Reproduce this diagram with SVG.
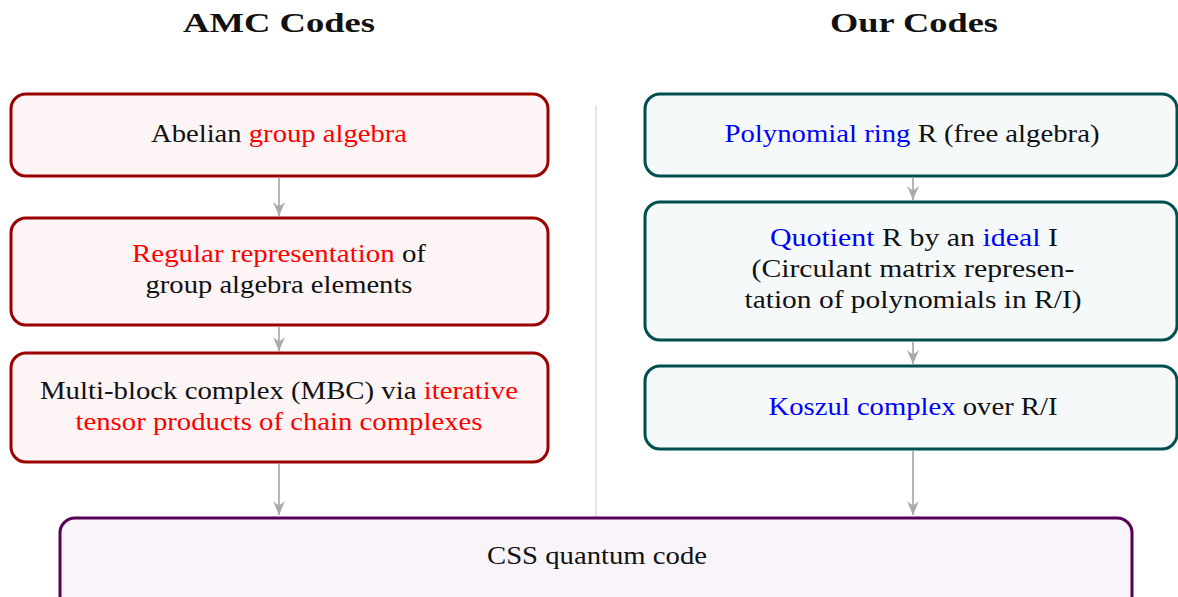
<svg xmlns="http://www.w3.org/2000/svg" width="1178" height="597" viewBox="0 0 1178 597">
<style>
text{font-family:"Liberation Serif","Times New Roman",serif;font-size:25px;fill:#111;text-anchor:middle}
.title{font-weight:bold;font-size:28px}
.r{fill:#ff0000}
.b{fill:#0000ff}
.amc{fill:#fdf4f5;stroke:#9b0000;stroke-width:3}
.our{fill:#f5f9fa;stroke:#004f4f;stroke-width:3}
.css{fill:#f8f4fa;stroke:#560057;stroke-width:3}
.arr{stroke:#aaaaaa;stroke-width:1.7;fill:none;marker-end:url(#ah)}
</style>
<defs>
<marker id="ah" markerUnits="userSpaceOnUse" markerWidth="18" markerHeight="16" viewBox="-15 -8 17 16" refX="0" refY="0" orient="auto">
<path d="M0,0 L-14,-6 Q-10,-1.5 -10,0 Q-10,1.5 -14,6 Z" fill="#aaaaaa"/>
</marker>
</defs>
<g id="titles">
<text class="title" x="279" y="32" textLength="192" lengthAdjust="spacingAndGlyphs">AMC Codes</text>
<text class="title" x="914" y="32" textLength="168" lengthAdjust="spacingAndGlyphs">Our Codes</text>
</g>
<line id="divider" x1="596" y1="105" x2="596" y2="519" stroke="#d6d6d6" stroke-width="1.2"/>
<g id="connectors">
<line class="arr" x1="279" y1="178" x2="279" y2="216"/>
<line class="arr" x1="279" y1="327" x2="279" y2="351"/>
<line class="arr" x1="279" y1="464" x2="279" y2="515"/>
<line class="arr" x1="913" y1="178" x2="913" y2="200"/>
<line class="arr" x1="913" y1="342" x2="913" y2="364"/>
<line class="arr" x1="913" y1="451" x2="913" y2="515"/>
</g>
<g id="amc1">
<rect class="amc" x="11" y="94" width="537" height="82" rx="15"/>
<text x="279" y="142" textLength="256" lengthAdjust="spacingAndGlyphs">Abelian <tspan class="r">group algebra</tspan></text>
</g>
<g id="amc2">
<rect class="amc" x="11" y="218" width="537" height="107" rx="15"/>
<text x="279" y="262" textLength="294" lengthAdjust="spacingAndGlyphs"><tspan class="r">Regular representation</tspan> of</text>
<text x="279" y="293" textLength="267" lengthAdjust="spacingAndGlyphs">group algebra elements</text>
</g>
<g id="amc3">
<rect class="amc" x="11" y="353" width="537" height="109" rx="15"/>
<text x="279" y="399" textLength="478" lengthAdjust="spacingAndGlyphs">Multi-block complex (MBC) via <tspan class="r">iterative</tspan></text>
<text x="279" y="430" textLength="407" lengthAdjust="spacingAndGlyphs" class="r">tensor products of chain complexes</text>
</g>
<g id="our1">
<rect class="our" x="645" y="94" width="532" height="82" rx="15"/>
<text x="912" y="142" textLength="375" lengthAdjust="spacingAndGlyphs"><tspan class="b">Polynomial ring</tspan> R (free algebra)</text>
</g>
<g id="our2">
<rect class="our" x="645" y="202" width="532" height="138" rx="15"/>
<text x="914" y="246" textLength="288" lengthAdjust="spacingAndGlyphs"><tspan class="b">Quotient</tspan> R by an <tspan class="b">ideal</tspan> I</text>
<text x="913" y="277" textLength="323" lengthAdjust="spacingAndGlyphs">(Circulant matrix represen-</text>
<text x="913" y="308" textLength="337" lengthAdjust="spacingAndGlyphs">tation of polynomials in R/I)</text>
</g>
<g id="our3">
<rect class="our" x="645" y="366" width="532" height="83" rx="15"/>
<text x="913" y="415" textLength="289" lengthAdjust="spacingAndGlyphs"><tspan class="b">Koszul complex</tspan> over R/I</text>
</g>
<g id="css">
<rect class="css" x="60" y="518" width="1072" height="110" rx="15"/>
<text x="597" y="564" textLength="220" lengthAdjust="spacingAndGlyphs">CSS quantum code</text>
</g>
</svg>
